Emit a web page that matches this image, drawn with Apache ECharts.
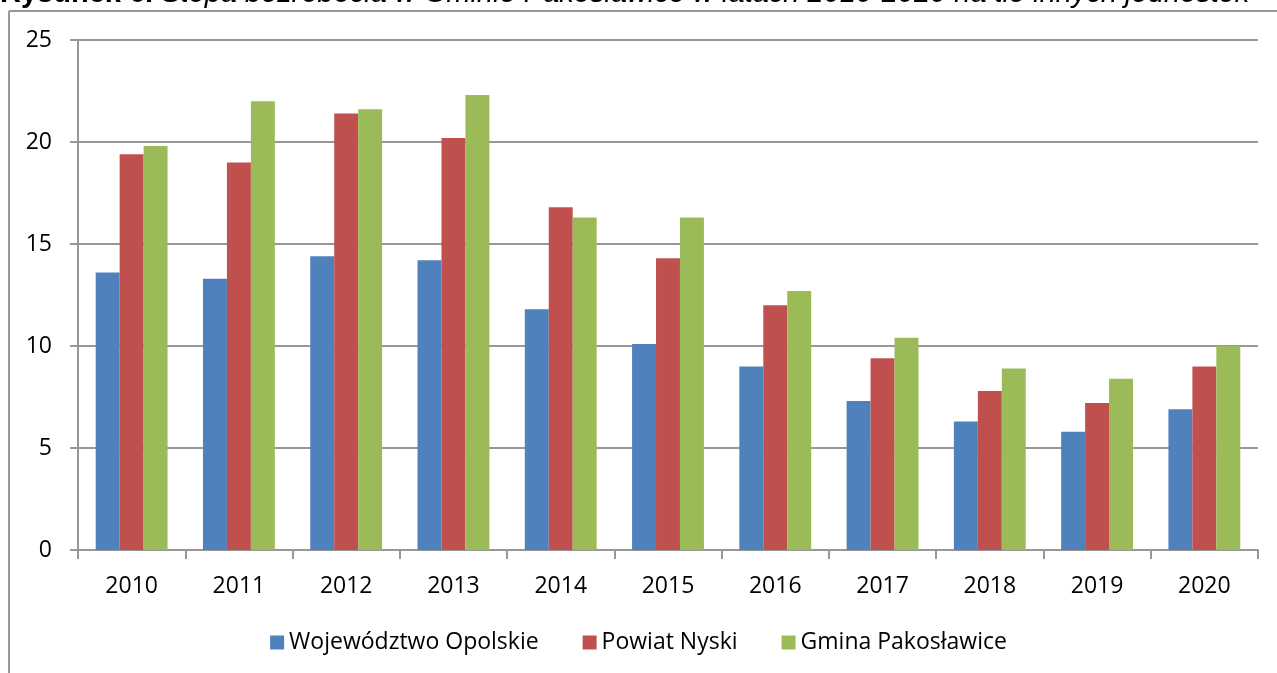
<!DOCTYPE html>
<html>
<head>
<meta charset="utf-8">
<script src="https://cdn.jsdelivr.net/npm/echarts@6/dist/echarts.min.js"></script>
<style>
  html, body { margin: 0; padding: 0; background: #fff; }
  #chart { width: 1277px; height: 673px; }
</style>
</head>
<body>
<div id="chart"></div>
<script>
const years = ["2010","2011","2012","2013","2014","2015","2016","2017","2018","2019","2020"];
const opolskie = [13.6, 13.3, 14.4, 14.2, 11.8, 10.1, 9.0, 7.3, 6.3, 5.8, 6.9];
const nyski = [19.4, 19.0, 21.4, 20.2, 16.8, 14.3, 12.0, 9.4, 7.8, 7.2, 9.0];
const pakoslawice = [19.8, 22.0, 21.6, 22.3, 16.3, 16.3, 12.7, 10.4, 8.9, 8.4, 10.0];
const seriesNames = ["Województwo Opolskie", "Powiat Nyski", "Gmina Pakosławice"];
const colors = ["#4F81BD", "#C0504D", "#9BBB59"];

const FONT = "Open Sans";
const gridGray = "#979797";

const chart = echarts.init(document.getElementById("chart"));

function bar(name, data, i) {
  return {
    name: name,
    type: "bar",
    data: data,
    barGap: "0%",
    barCategoryGap: "33%",
    itemStyle: { color: colors[i] },
    animation: false
  };
}

chart.setOption({
  animation: false,
  color: colors,
  graphic: [
    // caption, cut off by the top edge of the page
    {
      type: "text",
      left: 0,
      top: -21,
      style: {
        text: "{b|Rysunek 6. }{i|Stopa bezrobocia w Gminie Pakosławice w latach 2010-2020 na tle innych jednostek}",
        rich: {
          b: { fontFamily: "Liberation Sans", fontWeight: "bold", fontSize: 29, fill: "#000" },
          i: { fontFamily: "Liberation Sans", fontStyle: "italic", fontSize: 29, fill: "#000" }
        }
      }
    },
    // frame
    {
      type: "line",
      shape: { x1: 9, y1: 11, x2: 1277, y2: 11 },
      style: { stroke: gridGray, lineWidth: 2 }
    },
    {
      type: "line",
      shape: { x1: 9, y1: 11, x2: 9, y2: 673 },
      style: { stroke: gridGray, lineWidth: 2 }
    }
  ],
  grid: { left: 78, right: 19, top: 40, bottom: 123, containLabel: false },
  legend: {
    data: seriesNames,
    bottom: 14,
    left: "center",
    itemWidth: 14,
    itemHeight: 14,
    itemGap: 44,
    icon: "rect",
    textStyle: { fontFamily: FONT, fontSize: 23, color: "#000" }
  },
  xAxis: {
    type: "category",
    data: years,
    axisLine: { lineStyle: { color: gridGray, width: 2 } },
    axisTick: { show: true, length: 9, lineStyle: { color: gridGray, width: 2 } },
    axisLabel: { fontFamily: FONT, fontSize: 23, color: "#000", margin: 25 }
  },
  yAxis: {
    type: "value",
    min: 0,
    max: 25,
    interval: 5,
    axisLine: { show: true, lineStyle: { color: gridGray, width: 2 } },
    axisTick: { show: true, length: 8, lineStyle: { color: gridGray, width: 2 } },
    axisLabel: { fontFamily: FONT, fontSize: 23, color: "#000", margin: 26 },
    splitLine: { lineStyle: { color: gridGray, width: 2 } }
  },
  series: [
    bar(seriesNames[0], opolskie, 0),
    bar(seriesNames[1], nyski, 1),
    bar(seriesNames[2], pakoslawice, 2)
  ]
});
</script>
</body>
</html>
